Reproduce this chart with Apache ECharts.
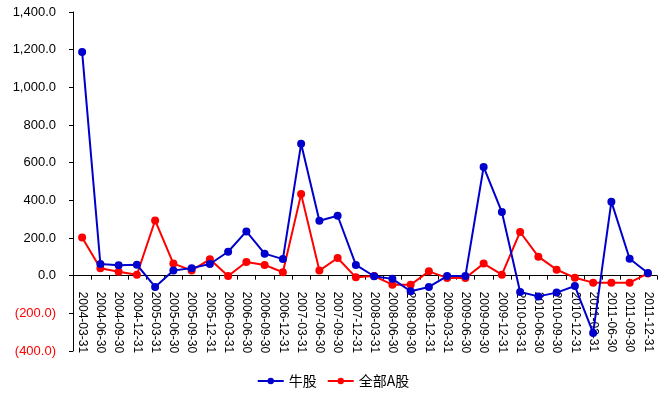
<!DOCTYPE html>
<html><head><meta charset="utf-8">
<script src="https://cdn.jsdelivr.net/npm/echarts@6/dist/echarts.min.js"></script>
<style>html,body{margin:0;padding:0;background:#fff}#c{width:666px;height:396px}</style>
</head><body><div id="c"></div>
<script>
const categories = ['2004-03-31','2004-06-30','2004-09-30','2004-12-31','2005-03-31','2005-06-30','2005-09-30','2005-12-31','2006-03-31','2006-06-30','2006-09-30','2006-12-31','2007-03-31','2007-06-30','2007-09-30','2007-12-31','2008-03-31','2008-06-30','2008-09-30','2008-12-31','2009-03-31','2009-06-30','2009-09-30','2009-12-31','2010-03-31','2010-06-30','2010-09-30','2010-12-31','2011-03-31','2011-06-30','2011-09-30','2011-12-31'];
const bullStocks = [1188, 62, 55, 58, -60, 27, 40, 62, 127, 235, 117, 88, 700, 292, 318, 57, -3, -17, -83, -60, -2, -2, 577, 338, -87, -110, -90, -55, -304, 393, 90, 14];
const allAShares = [203, 39, 21, 5, 293, 64, 28, 87, -2, 73, 57, 18, 433, 27, 94, -9, -2, -48, -48, 23, -12, -12, 64, 5, 232, 101, 32, -11, -37, -37, -37, 12];
const seriesNames = ['牛股', '全部A股'];
const yMin = -400, yMax = 1400, yStep = 200;

const gridTop = 12, gridBottom = 45, H = 396;
const plotH = H - gridTop - gridBottom;
const zeroOffset = plotH * (0 - yMin) / (yMax - yMin);

const fmt = v => {
  const s = Math.abs(v).toLocaleString('en-US', {minimumFractionDigits:1, maximumFractionDigits:1});
  return v < 0 ? '{neg|(' + s + ')}' : s;
};
const chart = echarts.init(document.getElementById('c'));
const font = 'Liberation Sans, Arial, sans-serif';
chart.setOption({
  animation: false,
  backgroundColor: '#fff',
  grid: {left: 73, right: 9, top: gridTop, bottom: gridBottom, containLabel: false, outerBoundsMode: 'none'},
  legend: {
    bottom: 3, left: 'center', itemWidth: 26, itemHeight: 8, itemGap: 10,
    textStyle: {fontFamily: 'Noto Sans CJK SC, sans-serif', fontSize: 14, color: '#000'},
    data: seriesNames
  },
  xAxis: {
    type: 'category', data: categories, boundaryGap: true,
    position: 'bottom', offset: -zeroOffset,
    axisLine: {onZero: false, lineStyle: {color: '#000', width: 1}},
    axisTick: {show: true, length: 4, inside: false, lineStyle: {color: '#000'}},
    axisLabel: {rotate: -90, interval: 0, margin: 16, color: '#000', fontFamily: font, fontSize: 12,
      overflow: 'none', width: 200, hideOverlap: false},
    splitLine: {show: false}
  },
  yAxis: {
    type: 'value', min: yMin, max: yMax, interval: yStep,
    axisLine: {show: true, lineStyle: {color: '#000', width: 1}},
    axisTick: {show: true, length: 4, lineStyle: {color: '#000'}},
    axisLabel: {margin: 17, color: '#000', fontFamily: font, fontSize: 13, formatter: fmt,
      rich: {neg: {color: '#ff0000', fontFamily: font, fontSize: 13}}},
    splitLine: {show: false}
  },
  series: [
    {name: seriesNames[0], type: 'line', data: bullStocks, color: '#0000cc',
     symbol: 'circle', symbolSize: 8, lineStyle: {width: 2}, z: 3},
    {name: seriesNames[1], type: 'line', data: allAShares, color: '#ff0000',
     symbol: 'circle', symbolSize: 8, lineStyle: {width: 2}, z: 2}
  ]
});
</script></body></html>
